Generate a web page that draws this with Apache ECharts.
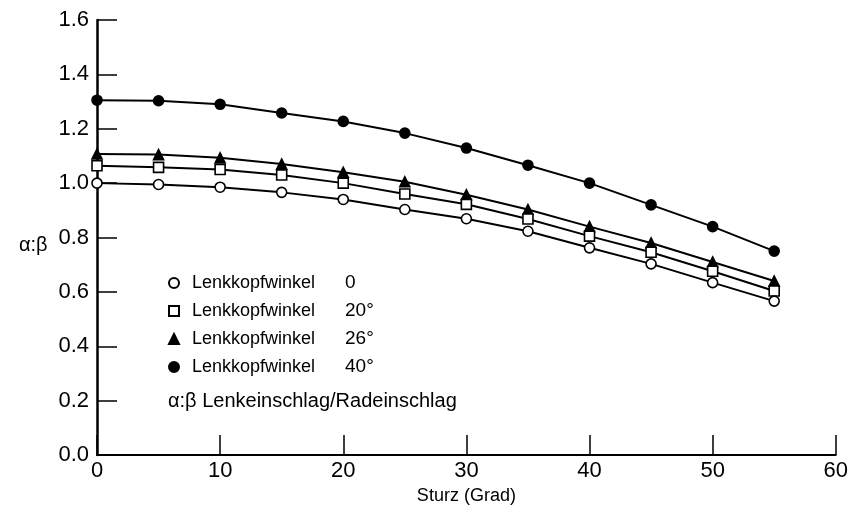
<!DOCTYPE html>
<html>
<head>
<meta charset="utf-8">
<script src="https://cdn.jsdelivr.net/npm/echarts@6/dist/echarts.min.js"></script>
<style>
  html, body { margin: 0; padding: 0; background: #fff; }
  #chart { width: 851px; height: 523px; }
</style>
</head>
<body>
<div id="chart"></div>
<script>
// Sturz (Grad)
const sturz = [0, 5, 10, 15, 20, 25, 30, 35, 40, 45, 50, 55];

// alpha:beta values per Lenkkopfwinkel
const winkel_0  = [1.00, 0.995, 0.985, 0.966, 0.94, 0.903, 0.869, 0.823, 0.762, 0.703, 0.634, 0.566];
const winkel_20 = [1.064, 1.058, 1.05, 1.03, 1.00, 0.96, 0.922, 0.868, 0.805, 0.746, 0.676, 0.603];
const winkel_26 = [1.107, 1.105, 1.093, 1.07, 1.04, 1.005, 0.957, 0.903, 0.84, 0.78, 0.71, 0.64];
const winkel_40 = [1.305, 1.303, 1.29, 1.258, 1.227, 1.184, 1.129, 1.066, 1.00, 0.92, 0.84, 0.75];

const namen = ['Lenkkopfwinkel 0', 'Lenkkopfwinkel 20°', 'Lenkkopfwinkel 26°', 'Lenkkopfwinkel 40°'];

const FONT = 'Liberation Sans';

function paare(werte) {
    return sturz.map((x, i) => [x, werte[i]]);
}

function linie(name, werte, symbol, gefuellt) {
    return {
        name: name,
        type: 'line',
        data: paare(werte),
        symbol: symbol,
        symbolSize: 10,
        showSymbol: true,
        lineStyle: { color: '#000', width: 2 },
        itemStyle: {
            color: gefuellt ? '#000' : '#fff',
            borderColor: '#000',
            borderWidth: 1.6
        },
        emphasis: { disabled: true },
        z: 3
    };
}

const chart = echarts.init(document.getElementById('chart'));

chart.setOption({
    animation: false,
    backgroundColor: '#fff',
    grid: { left: 97, right: 13, top: 20, bottom: 68 },
    legend: {
        orient: 'vertical',
        left: 163,
        top: 268,
        itemWidth: 10,
        itemHeight: 10,
        itemGap: 8,
        data: [
            { name: namen[0], icon: 'circle' },
            { name: namen[1], icon: 'rect' },
            { name: namen[2], icon: 'triangle' },
            { name: namen[3], icon: 'circle' }
        ],
        formatter: function (n) {
            const teile = n.split(' ');
            return '{a|' + teile[0] + '}{b|' + teile[1] + '}';
        },
        textStyle: {
            fontFamily: FONT,
            fontSize: 18,
            color: '#000',
            lineHeight: 20,
            padding: [0, 0, 0, 8],
            rich: {
                a: { width: 153, fontFamily: FONT, fontSize: 18, color: '#000' },
                b: { fontFamily: FONT, fontSize: 19, color: '#000' }
            }
        }
    },
    graphic: [{
        type: 'text',
        left: 168,
        top: 391,
        style: {
            text: 'α:β Lenkeinschlag/Radeinschlag',
            font: '20px "Liberation Sans"',
            fill: '#000'
        }
    }, {
        // y axis name, placed below the middle like in the original
        type: 'text',
        left: 19,
        top: 235,
        style: {
            text: 'α:β',
            font: '20px "Liberation Sans"',
            fill: '#000'
        }
    }],
    xAxis: {
        type: 'value',
        min: 0,
        max: 60,
        interval: 10,
        name: 'Sturz (Grad)',
        nameLocation: 'middle',
        nameGap: 30,
        nameTextStyle: { fontFamily: FONT, fontSize: 18, color: '#000' },
        axisLine: { lineStyle: { color: '#000', width: 2 } },
        axisTick: { inside: true, length: 20, lineStyle: { color: '#000', width: 1.5 } },
        axisLabel: { fontFamily: FONT, fontSize: 22, color: '#000', margin: 5 },
        splitLine: { show: false }
    },
    yAxis: {
        type: 'value',
        min: 0,
        max: 1.6,
        interval: 0.2,
        axisLine: { lineStyle: { color: '#000', width: 2.5 } },
        axisTick: { inside: true, length: 20, lineStyle: { color: '#000', width: 1.5 } },
        axisLabel: {
            fontFamily: FONT, fontSize: 22, color: '#000', margin: 8,
            formatter: v => v.toFixed(1)
        },
        splitLine: { show: false }
    },
    series: [
        linie(namen[3], winkel_40, 'circle', true),
        linie(namen[2], winkel_26, 'triangle', true),
        linie(namen[1], winkel_20, 'rect', false),
        linie(namen[0], winkel_0, 'circle', false)
    ]
});
</script>
</body>
</html>
